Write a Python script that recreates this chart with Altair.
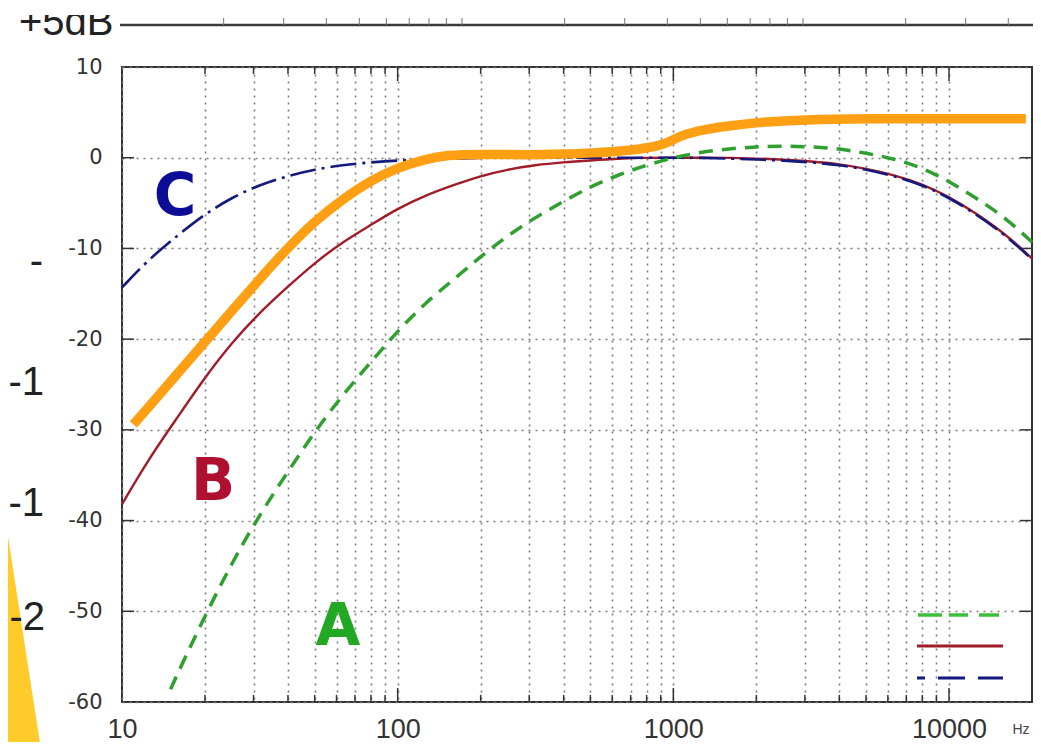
import altair as alt
import pandas as pd

# ---------------- data ----------------
a_freq = [15, 16, 20, 25, 31.5, 40, 50, 63, 80, 100, 125, 160, 200, 250, 315, 400, 500,
          630, 800, 1000, 1250, 1600, 2000, 2500, 3150, 4000, 5000, 6300, 8000, 10000,
          12500, 16000, 20000]
a_db = [-58.6, -56.7, -50.5, -44.7, -39.4, -34.6, -30.2, -26.2, -22.5, -19.1, -16.1, -13.4,
        -10.9, -8.6, -6.6, -4.8, -3.2, -1.9, -0.8, 0.0, 0.6, 1.0, 1.2, 1.3, 1.2, 1.0, 0.5,
        -0.1, -1.1, -2.6, -4.4, -6.6, -9.3]

bc_freq = [10, 12.5, 16, 20, 25, 31.5, 40, 50, 63, 80, 100, 125, 160, 200, 250, 315, 400,
           500, 630, 800, 1000, 1250, 1600, 2000, 2500, 3150, 4000, 5000, 6300, 8000,
           10000, 12500, 16000, 20000]
b_db = [-38.2, -33.2, -28.5, -24.2, -20.4, -17.1, -14.2, -11.6, -9.3, -7.4, -5.6, -4.2,
        -3.0, -2.0, -1.3, -0.8, -0.5, -0.3, -0.1, 0.0, 0.0, 0.0, 0.0, -0.1, -0.2, -0.4,
        -0.7, -1.2, -1.9, -2.9, -4.3, -6.1, -8.4, -11.1]
c_db = [-14.3, -11.2, -8.5, -6.2, -4.4, -3.0, -2.0, -1.3, -0.8, -0.5, -0.3, -0.2, -0.1,
        0.0, 0.0, 0.0, 0.0, 0.0, 0.0, 0.0, 0.0, 0.0, -0.1, -0.2, -0.3, -0.5, -0.8, -1.3,
        -2.0, -3.0, -4.4, -6.2, -8.5, -11.2]

o_freq = [11, 13, 16, 20, 25, 31.5, 40, 50, 63, 80, 100, 125, 150, 200, 300, 400, 500,
          700, 900, 1000, 1100, 1300, 1500, 2000, 3000, 5000, 10000, 19000]
o_db = [-29.4, -26.9, -23.7, -20.3, -16.9, -13.4, -9.9, -7.0, -4.6, -2.5, -1.1, -0.2, 0.3,
        0.4, 0.3, 0.4, 0.5, 0.8, 1.3, 2.0, 2.6, 3.1, 3.4, 3.9, 4.2, 4.3, 4.3, 4.3]

x_grid_vals = [10, 20, 30, 40, 50, 60, 70, 80, 90, 100, 200, 300, 400, 500, 600, 700, 800,
               900, 1000, 2000, 3000, 4000, 5000, 6000, 7000, 8000, 9000, 10000]
x_major_ticks = [100, 1000, 10000]
x_minor_ticks = [20, 30, 40, 50, 60, 70, 80, 90, 200, 300, 400, 500, 600, 700, 800, 900,
                 2000, 3000, 4000, 5000, 6000, 7000, 8000, 9000]
y_vals = [-60, -50, -40, -30, -20, -10, 0, 10]
y_tick_vals = [-50, -40, -30, -20, -10, 0]

curve_letters = ["A", "B", "C"]
overlay_labels = ["+5dB", "-", "-1", "-1", "-2"]
unit_label = "Hz"
# ticks of the partial axis strip at the top (another log axis)
overlay_ticks = [2, 3, 4, 5, 6, 7, 8, 9, 10, 20, 30, 40, 50, 60, 70, 80, 90, 100, 200, 300, 400]

# ---------------- styling ----------------
W, H = 910, 635
ORANGE = "#ffa014"
RED = "#a01c28"
BLUE = "#14197e"
GREEN = "#2fa02f"

xs = alt.Scale(type="log", domain=[10, 20000], nice=False)
ys = alt.Scale(domain=[-60, 10], nice=False, zero=False)

GRID = dict(grid=True, gridColor="#7c7c7c", gridDash=[2, 5], gridWidth=1.6)

x_axis = alt.Axis(
    values=x_grid_vals, title=None, ticks=False, domain=False,
    labelExpr="(datum.value == 10 || datum.value == 100 || datum.value == 1000 || datum.value == 10000) ? '' + datum.value : ''",
    labelFont="Liberation Sans", labelFontSize=27, labelColor="#333333",
    labelPadding=14, labelFlush=False, labelOverlap=False, **GRID)
y_axis = alt.Axis(
    values=y_vals, title=None, ticks=False, domain=False,
    labelExpr="'' + datum.value",
    labelFont="DejaVu Sans", labelFontSize=21, labelColor="#333333",
    labelPadding=20, labelFlush=False, labelOverlap=False, **GRID)


def X():
    return alt.X("f:Q", scale=xs, axis=x_axis)


def Y():
    return alt.Y("db:Q", scale=ys, axis=y_axis)


def curve(freq, db, **kw):
    df = pd.DataFrame({"f": freq, "db": db})
    return alt.Chart(df).mark_line(interpolate="basis", **kw).encode(x=X(), y=Y())


def txt(s, x, y, **kw):
    return alt.Chart(pd.DataFrame({"t": [s]})).mark_text(**kw).encode(
        text="t:N", x=alt.value(x), y=alt.value(y))


def one():
    return alt.Chart(pd.DataFrame({"k": [0]}))


# decorative yellow wedge at bottom-left
wedge = one().mark_point(
    shape="M -1 -1 L -0.69 1 L -1 1 Z", size=72900, filled=True,
    color="#ffcb2b", opacity=1, strokeWidth=0
).encode(x=alt.value(13), y=alt.value(553))

over_font = dict(font="Liberation Sans", fontSize=40, color="#222222", baseline="alphabetic")
over_txt = [
    txt(overlay_labels[0], -103, -32, align="left", **over_font),
    txt(overlay_labels[1], -79, 207, align="right", **over_font),
    txt(overlay_labels[2], -78, 328, align="right", **over_font),
    txt(overlay_labels[3], -78, 449, align="right", **over_font),
    txt(overlay_labels[4], -77, 563, align="right", **over_font),
]
cover = one().mark_rect(color="white").encode(
    x=alt.value(-114), x2=alt.value(-4), y=alt.value(-59), y2=alt.value(-52))
over_line = one().mark_rule(color="#3a3a3a", strokeWidth=2.5).encode(
    x=alt.value(-2), x2=alt.value(W + 1), y=alt.value(-42))

# inward ticks
df_minor = pd.DataFrame({"f": x_minor_ticks})
df_major = pd.DataFrame({"f": x_major_ticks})
tick_style = dict(color="#333333", strokeWidth=1.5)
t_top_minor = alt.Chart(df_minor).mark_rule(**tick_style).encode(x=X(), y=alt.value(0), y2=alt.value(7))
t_bot_minor = alt.Chart(df_minor).mark_rule(**tick_style).encode(x=X(), y=alt.value(H - 7), y2=alt.value(H))
t_top_major = alt.Chart(df_major).mark_rule(**tick_style).encode(x=X(), y=alt.value(0), y2=alt.value(14))
t_bot_major = alt.Chart(df_major).mark_rule(**tick_style).encode(x=X(), y=alt.value(H - 14), y2=alt.value(H))
df_yt = pd.DataFrame({"db": y_tick_vals})
t_left = alt.Chart(df_yt).mark_rule(**tick_style).encode(y=Y(), x=alt.value(0), x2=alt.value(12))
t_right = alt.Chart(df_yt).mark_rule(**tick_style).encode(y=Y(), x=alt.value(W - 12), x2=alt.value(W))

# curves
line_b = curve(bc_freq, b_db, color=RED, strokeWidth=2.4)
line_c = curve(bc_freq, c_db, color=BLUE, strokeWidth=2.6, strokeDash=[26, 6, 3, 6])
line_a = curve(a_freq, a_db, color=GREEN, strokeWidth=3.5, strokeDash=[14, 9])
line_o = curve(o_freq, o_db, color=ORANGE, strokeWidth=9.5)

# legend samples (no text)
leg_a = one().mark_rule(color="#3cc03c", strokeWidth=3.5, strokeDash=[24, 7, 19, 11, 21, 20]).encode(
    x=alt.value(796), x2=alt.value(877), y=alt.value(548))
leg_b = one().mark_rule(color=RED, strokeWidth=3).encode(
    x=alt.value(795), x2=alt.value(881), y=alt.value(579))
leg_c = one().mark_rule(color=BLUE, strokeWidth=3, strokeDash=[8, 13, 27, 13, 25, 13]).encode(
    x=alt.value(795), x2=alt.value(881), y=alt.value(611))

letter_font = dict(font="DejaVu Sans", fontWeight="bold", fontSize=58, baseline="alphabetic", align="center")
lab_c = txt(curve_letters[2], 53, 148, color="#0c0c96", **letter_font)
lab_b = txt(curve_letters[1], 91, 433, color="#b01030", **letter_font)
lab_a = txt(curve_letters[0], 216, 578, color="#22a822", **letter_font)

hz = txt(unit_label, 899, 667, font="Liberation Sans", fontSize=14, color="#444444",
         align="center", baseline="alphabetic")

main = alt.layer(
    wedge, *over_txt, cover, over_line,
    t_top_minor, t_bot_minor, t_top_major, t_bot_major, t_left, t_right,
    line_b, line_c, line_a, line_o,
    leg_a, leg_b, leg_c,
    lab_c, lab_b, lab_a, hz,
)

strip_ticks = alt.Chart(pd.DataFrame({"g": overlay_ticks})).mark_rule(
    color="#777777", strokeWidth=1
).encode(
    x=alt.X("g:Q", scale=alt.Scale(type="log", domain=[1, 100], range=[-1, 681], nice=False), axis=None),
    y=alt.value(-49), y2=alt.value(-42))

chart = alt.layer(main, strip_ticks).resolve_scale(x="independent").properties(
    width=W, height=H,
    padding={"left": 114, "top": 59, "right": 1, "bottom": 40},
    autosize=alt.AutoSizeParams(type="none"),
    background="white",
).configure_view(stroke="#333333", strokeWidth=2)

chart.save("out.html", embed_options={"renderer": "svg", "actions": False})
